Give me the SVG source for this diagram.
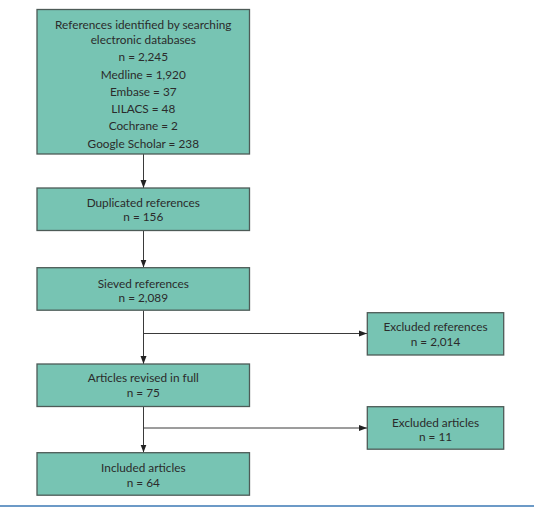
<svg xmlns="http://www.w3.org/2000/svg" width="534" height="509" viewBox="0 0 534 509">
<defs>
<style>
.box{fill:#77c4b3;stroke:#4d5b57;stroke-width:1.3}
text{font-family:Lato,"Open Sans","Liberation Sans",sans-serif;font-size:11.8px;fill:#2b2b2b;text-anchor:middle}
.edge{stroke:#3a3a3a;stroke-width:1;fill:none;marker-end:url(#arr)}
</style>
<marker id="arr" viewBox="0 0 8 8" refX="8" refY="4" markerWidth="8" markerHeight="8" markerUnits="userSpaceOnUse" orient="auto">
<path d="M0,1 L8,4 L0,7 Z" fill="#222"/>
</marker>
</defs>
<rect width="534" height="509" fill="#ffffff"/>
<g id="connectors">
<path class="edge" d="M143.5,154 V188"/>
<path class="edge" d="M143.5,231 V267.5"/>
<path class="edge" d="M143.5,310.5 V364"/>
<path class="edge" d="M143.5,333.5 H367"/>
<path class="edge" d="M143.5,406.5 V452.5"/>
<path class="edge" d="M143.5,428 H367"/>
</g>
<g id="identified">
<rect class="box" x="37" y="9.5" width="212.5" height="144.5"/>
<text x="143.3" y="29">References identified by searching</text>
<text x="143.3" y="43.5">electronic databases</text>
<text x="143.3" y="61">n = 2,245</text>
<text x="143.3" y="78.5">Medline = 1,920</text>
<text x="143.3" y="95.5">Embase = 37</text>
<text x="143.3" y="113">LILACS = 48</text>
<text x="143.3" y="130">Cochrane = 2</text>
<text x="143.3" y="147.5">Google Scholar = 238</text>
</g>
<g id="duplicated">
<rect class="box" x="37" y="188" width="212.5" height="42.5"/>
<text x="143.3" y="206.5">Duplicated references</text>
<text x="143.3" y="220.5">n = 156</text>
</g>
<g id="sieved">
<rect class="box" x="37" y="267.7" width="212.5" height="42.5"/>
<text x="143.3" y="287.5">Sieved references</text>
<text x="143.3" y="301.5">n = 2,089</text>
</g>
<g id="revised">
<rect class="box" x="37" y="364" width="212.5" height="42.5"/>
<text x="143.3" y="382">Articles revised in full</text>
<text x="143.3" y="396.5">n = 75</text>
</g>
<g id="included">
<rect class="box" x="37" y="452.7" width="212.5" height="42.5"/>
<text x="143.3" y="472">Included articles</text>
<text x="143.3" y="486.5">n = 64</text>
</g>
<g id="excluded-references">
<rect class="box" x="367.3" y="312.7" width="136.4" height="42.3"/>
<text x="435.5" y="331">Excluded references</text>
<text x="435.5" y="345.5">n = 2,014</text>
</g>
<g id="excluded-articles">
<rect class="box" x="367.3" y="406.7" width="136.4" height="42.5"/>
<text x="435.5" y="426.5">Excluded articles</text>
<text x="435.5" y="441">n = 11</text>
</g>
<line x1="0" y1="506" x2="534" y2="506" stroke="#3b78b5" stroke-width="1.6"/>
</svg>
